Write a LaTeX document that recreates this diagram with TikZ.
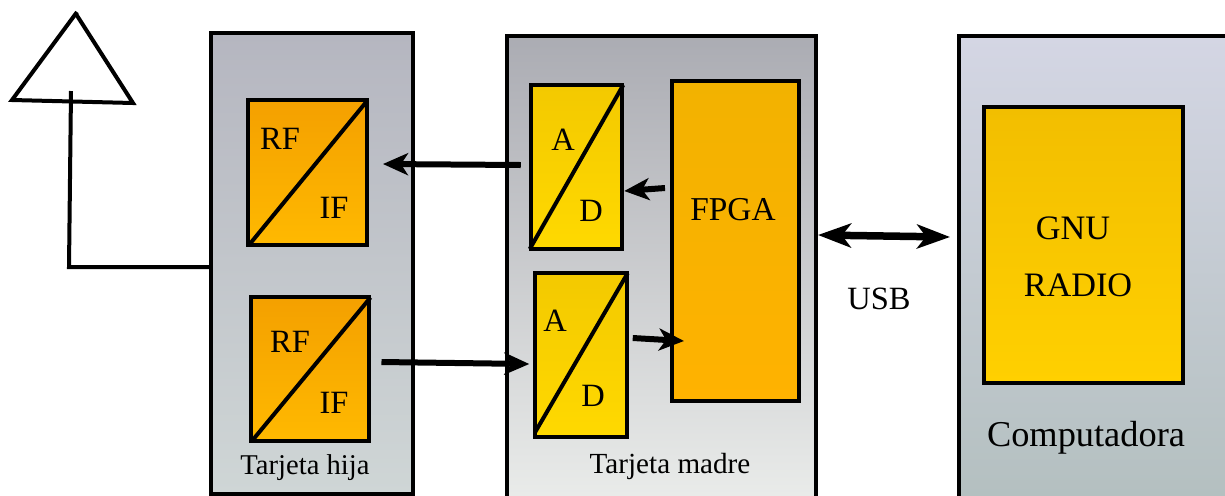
\documentclass[tikz,border=0pt]{standalone}
\usepackage{fontspec}
\setmainfont{Liberation Serif}
\usetikzlibrary{arrows.meta}
\definecolor{rfalto}{HTML}{F4A000}
\definecolor{rfbajo}{HTML}{FFB900}
\definecolor{adalto}{HTML}{F3C900}
\definecolor{adbajo}{HTML}{FFD900}
\definecolor{fpgaalto}{HTML}{F2B200}
\definecolor{fpgabajo}{HTML}{FFB200}
\definecolor{gnualto}{HTML}{F2BE00}
\definecolor{gnubajo}{HTML}{FFD000}
\definecolor{hijaalto}{HTML}{B5B6C0}
\definecolor{hijabajo}{HTML}{CFD6D6}
\definecolor{madrealto}{HTML}{ABACB3}
\definecolor{madrebajo}{HTML}{EBEDEB}
\definecolor{compualto}{HTML}{D4D6E4}
\definecolor{compubajo}{HTML}{B3BFBF}
\tikzset{
    caja/.style={draw=black,line width=0.08cm,rectangle,inner sep=0pt},
    rfbox/.style={caja,top color=rfalto,bottom color=rfbajo,minimum width=2.38cm,minimum height=2.9cm},
    adbox/.style={caja,top color=adalto,bottom color=adbajo,minimum width=1.83cm,minimum height=3.28cm},
    flecha/.style={line width=0.12cm,-{Stealth[length=0.5cm,width=0.44cm,inset=0.14cm]}},
    linea/.style={line width=0.08cm},
    rotulo/.style={font=\fontsize{18.5}{22}\selectfont,inner sep=0pt},
    rotulochico/.style={font=\fontsize{16.3}{19}\selectfont,inner sep=0pt}
}
\begin{document}
\begin{tikzpicture}[x=0.02cm,y=-0.02cm]
    \useasboundingbox (0,0) rectangle (1225,495);
    \clip (0,0) rectangle (1225,495);
    % tarjetas
    \node [caja,top color=hijaalto,bottom color=hijabajo,minimum width=4.04cm,minimum height=9.22cm] (hija) at (312,263.5) {};
    \node [caja,top color=madrealto,bottom color=madrebajo,minimum width=6.18cm,minimum height=9.48cm] (madre) at (661.5,273) {};
    \node [caja,top color=compualto,bottom color=compubajo,minimum width=5.62cm,minimum height=9.48cm] (compu) at (1099.5,273) {};
    % bloques
    \node [rfbox] (rfA) at (307.5,172.5) {};
    \node [rfbox] (rfB) at (310,369) {};
    \node [adbox] (adA) at (576.5,167) {};
    \node [adbox] (adB) at (581,355) {};
    \node [caja,top color=fpgaalto,bottom color=fpgabajo,minimum width=2.54cm,minimum height=6.4cm] (fpga) at (735.5,241) {};
    \node [caja,top color=gnualto,bottom color=gnubajo,minimum width=3.98cm,minimum height=5.52cm] (gnu) at (1083.5,245) {};
    % diagonales
    \draw [linea] ([shift={(3,-2)}]rfA.south west) -- ([shift={(-2,3)}]rfA.north east);
    \draw [linea] ([shift={(3,-2)}]rfB.south west) -- ([shift={(-1,3)}]rfB.north east);
    \draw [linea] ([shift={(1,-2)}]adA.south west) -- ([shift={(-1,2)}]adA.north east);
    \draw [linea] ([shift={(2,-7)}]adB.south west) -- ([shift={(-1,2)}]adB.north east);
    % antena
    \draw [linea] (77,12) -- (12,100) -- (133,103) -- (76,14);
    \coordinate (antena) at (71,91);
    \coordinate (codo) at (69,267);
    \draw [linea] ([shift={(0,3.5)}]hija.west) -- (codo) -- (antena);
    % flechas
    \draw [flecha] ([shift={(-8,-2)}]adA.west) -- ([shift={(14,-8.5)}]rfA.east);
    \draw [flecha] ([shift={(-5,-53)}]fpga.west) -- ([shift={(0,24)}]adA.east);
    \draw [flecha] ([shift={(10,-7)}]rfB.east) -- ([shift={(-4,9)}]adB.west);
    \draw [flecha] ([shift={(4,-17)}]adB.east) -- ([shift={(14,100)}]fpga.west);
    \draw [line width=0.15cm,{Stealth[length=0.66cm,width=0.48cm,inset=0.18cm]}-{Stealth[length=0.66cm,width=0.48cm,inset=0.18cm]}] ([shift={(0,-38)}]madre.east) -- ([shift={(-7,-36)}]compu.west);
    % textos
    \node [rotulo] (rfAarriba) at (280,139) {RF};
    \node [rotulo] (rfAabajo) at (334,208) {IF};
    \node [rotulo] (rfBarriba) at (290,342) {RF};
    \node [rotulo] (rfBabajo) at (334,403) {IF};
    \node [rotulo] (adAarriba) at (563,140) {A};
    \node [rotulo] (adAabajo) at (591,211) {D};
    \node [rotulo] (adBarriba) at (555,321) {A};
    \node [rotulo] (adBabajo) at (593,396) {D};
    \node [rotulo,font=\fontsize{19}{22}\selectfont] (fpgatxt) at (733,210) {FPGA};
    \node [rotulo,font=\fontsize{19.5}{22}\selectfont] (gnutxt) at (1073,228) {GNU};
    \node [rotulo,font=\fontsize{19.5}{22}\selectfont] (radiotxt) at (1078,285) {RADIO};
    \node [rotulo] (usbtxt) at (879,299) {USB};
    \node [rotulo,font=\fontsize{20.7}{24}\selectfont] (compututxt) at (1086,438) {Computadora};
    \node [rotulochico] (hijatxt) at (305,468) {Tarjeta hija};
    \node [rotulochico,font=\fontsize{16.6}{19}\selectfont] (madretxt) at (670,466) {Tarjeta madre};
\end{tikzpicture}
\end{document}
